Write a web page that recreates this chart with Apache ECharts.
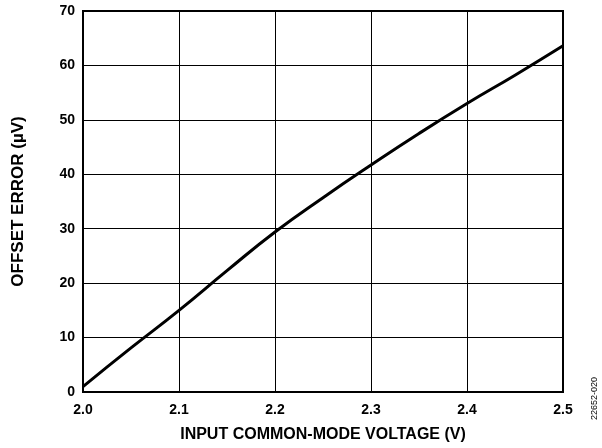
<!DOCTYPE html>
<html>
<head>
<meta charset="utf-8">
<script src="https://cdn.jsdelivr.net/npm/echarts@6/dist/echarts.min.js"></script>
<style>
html,body{margin:0;padding:0;background:#fff;}
#chart{width:602px;height:448px;}
</style>
</head>
<body>
<div id="chart"></div>
<script>
const voltage = [2.0, 2.05, 2.1, 2.15, 2.2, 2.25, 2.3, 2.35, 2.4, 2.45, 2.5];
const offsetError = [1.0, 8.1, 15.0, 22.3, 29.4, 35.7, 41.7, 47.5, 53.0, 58.2, 63.6];
const xAxisTitle = 'INPUT COMMON-MODE VOLTAGE (V)';
const yAxisTitle = 'OFFSET ERROR (µV)';
const figureCode = '22652-020';

const chart = echarts.init(document.getElementById('chart'));
const font = '"Liberation Sans", Arial, sans-serif';
chart.setOption({
  animation: false,
  backgroundColor: '#fff',
  grid: { left: 83, right: 39, top: 11, bottom: 54, show: true, borderColor: '#000', borderWidth: 2, backgroundColor: 'transparent' },
  xAxis: {
    type: 'value', min: 2.0, max: 2.5, interval: 0.1,
    name: xAxisTitle, nameLocation: 'middle', nameGap: 35,
    nameTextStyle: { fontFamily: font, fontWeight: 'bold', fontSize: 16, color: '#000' },
    axisLine: { show: true, lineStyle: { color: '#000', width: 2 } },
    axisTick: { show: false },
    axisLabel: { formatter: v => v.toFixed(1), fontFamily: font, fontWeight: 'bold', fontSize: 14, color: '#000', margin: 11 },
    splitLine: { show: true, lineStyle: { color: '#000', width: 1 } }
  },
  yAxis: {
    type: 'value', min: 0, max: 70, interval: 10,
    name: yAxisTitle, nameLocation: 'middle', nameGap: 56,
    nameTextStyle: { fontFamily: font, fontWeight: 'bold', fontSize: 17, color: '#000' },
    axisLine: { show: true, lineStyle: { color: '#000', width: 2 } },
    axisTick: { show: false },
    axisLabel: { fontFamily: font, fontWeight: 'bold', fontSize: 14, color: '#000', margin: 8 },
    splitLine: { show: true, lineStyle: { color: '#000', width: 1 } }
  },
  series: [{
    type: 'line', data: voltage.map((v, i) => [v, offsetError[i]]),
    smooth: true, showSymbol: false,
    lineStyle: { color: '#000', width: 3 }
  }],
  graphic: [{
    type: 'text', x: 590, y: 420, rotation: Math.PI / 2,
    style: { text: figureCode, fontFamily: font, fontSize: 9, fill: '#000', align: 'left', verticalAlign: 'top' }
  }]
});
</script>
</body>
</html>
